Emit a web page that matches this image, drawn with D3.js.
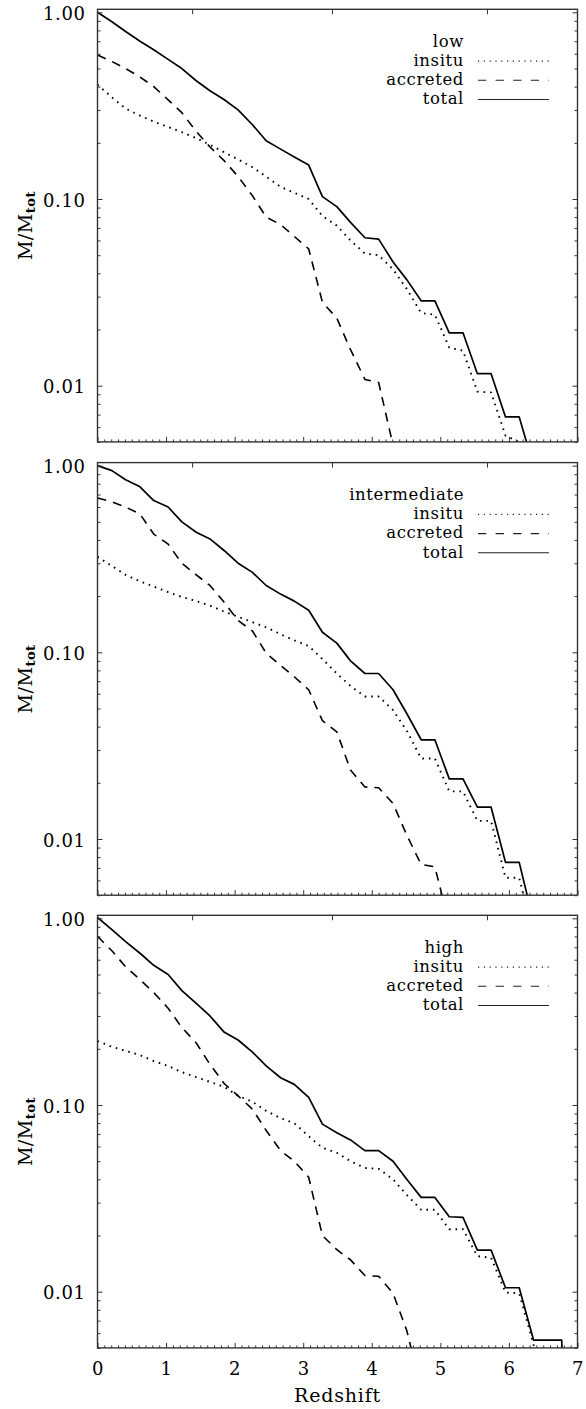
<!DOCTYPE html>
<html>
<head>
<meta charset="utf-8">
<script src="https://cdn.jsdelivr.net/npm/d3@7"></script>
<style>
  html, body { margin: 0; padding: 0; background: #fff; }
  svg { display: block; }
  text { font-family: "DejaVu Serif", "Liberation Serif", serif; fill: #000; }
</style>
</head>
<body>
<script>
// Snapshot redshifts shared by all three panels
const redshift = [0.00, 0.21, 0.41, 0.62, 0.82, 1.03, 1.23, 1.44, 1.64, 1.85, 2.05, 2.26, 2.46, 2.67, 2.87,
                  3.08, 3.28, 3.49, 3.69, 3.90, 4.10, 4.31, 4.51, 4.72, 4.92, 5.13, 5.33, 5.54, 5.74, 5.95,
                  6.15, 6.36, 6.56, 6.77, 6.97];

// "low" sample
const lowInsitu   = [0.41, 0.35, 0.305, 0.28, 0.26, 0.243, 0.228, 0.212, 0.195, 0.178, 0.163, 0.148, 0.132, 0.116, 0.108,
                     0.100, 0.081, 0.072, 0.060, 0.051, 0.050, 0.042, 0.033, 0.0245, 0.024, 0.016, 0.0154, 0.0093, 0.0092, 0.0054,
                     0.0050, 0.003];
const lowAccreted = [0.59, 0.545, 0.50, 0.45, 0.40, 0.34, 0.29, 0.23, 0.19, 0.16, 0.132, 0.104, 0.080, 0.073, 0.063,
                     0.054, 0.028, 0.023, 0.0156, 0.0108, 0.0104, 0.0048, 0.002];
const lowTotal    = [1.00, 0.89, 0.79, 0.70, 0.63, 0.56, 0.50, 0.43, 0.38, 0.34, 0.30, 0.25, 0.205, 0.185, 0.168,
                     0.152, 0.103, 0.091, 0.075, 0.062, 0.061, 0.046, 0.037, 0.0285, 0.0285, 0.0192, 0.0192, 0.0116, 0.0116, 0.0068,
                     0.0068, 0.0037];

// "intermediate" sample
const midInsitu   = [0.325, 0.29, 0.26, 0.24, 0.225, 0.21, 0.198, 0.188, 0.178, 0.165, 0.155, 0.145, 0.136, 0.125, 0.116,
                     0.108, 0.092, 0.077, 0.066, 0.058, 0.058, 0.049, 0.038, 0.027, 0.027, 0.018, 0.018, 0.0125, 0.0125, 0.0062,
                     0.0062, 0.003];
const midAccreted = [0.67, 0.64, 0.60, 0.55, 0.43, 0.38, 0.30, 0.26, 0.228, 0.185, 0.148, 0.130, 0.099, 0.085, 0.074,
                     0.063, 0.043, 0.0375, 0.0234, 0.019, 0.0188, 0.0155, 0.0105, 0.0073, 0.0071, 0.0035];
const midTotal    = [1.00, 0.94, 0.84, 0.77, 0.65, 0.60, 0.50, 0.44, 0.405, 0.35, 0.30, 0.268, 0.228, 0.205, 0.188,
                     0.168, 0.128, 0.112, 0.090, 0.077, 0.077, 0.063, 0.047, 0.034, 0.034, 0.021, 0.021, 0.0148, 0.0148, 0.0075,
                     0.0075, 0.0036];

// "high" sample
const highInsitu   = [0.22, 0.205, 0.195, 0.185, 0.172, 0.162, 0.150, 0.141, 0.133, 0.125, 0.112, 0.104, 0.093, 0.085, 0.080,
                      0.068, 0.059, 0.0555, 0.050, 0.046, 0.0455, 0.040, 0.033, 0.0275, 0.0275, 0.0216, 0.0216, 0.0155, 0.0152, 0.0099,
                      0.0098, 0.0052, 0.003];
const highAccreted = [0.80, 0.67, 0.55, 0.47, 0.40, 0.33, 0.26, 0.215, 0.165, 0.13, 0.112, 0.095, 0.073, 0.057, 0.050,
                      0.041, 0.020, 0.0168, 0.0148, 0.0122, 0.0121, 0.0098, 0.0062, 0.003];
const highTotal    = [1.01, 0.87, 0.75, 0.65, 0.56, 0.50, 0.41, 0.35, 0.30, 0.245, 0.223, 0.192, 0.162, 0.140, 0.129,
                      0.110, 0.079, 0.071, 0.065, 0.057, 0.057, 0.050, 0.040, 0.032, 0.032, 0.0252, 0.0250, 0.0167, 0.0167, 0.0105,
                      0.0105, 0.0055, 0.0055, 0.0055, 0.00001];

const panelNames   = ["low", "intermediate", "high"];
const seriesNames  = ["insitu", "accreted", "total"];
const panelSeries  = [
  [lowInsitu, lowAccreted, lowTotal],
  [midInsitu, midAccreted, midTotal],
  [highInsitu, highAccreted, highTotal]
];

const xTicks      = [0, 1, 2, 3, 4, 5, 6, 7];
const xTickLabels = ["0", "1", "2", "3", "4", "5", "6", "7"];
const topTicks    = [1.38, 3.42, 5.68];
const yTicks      = [1, 0.1, 0.01];
const yTickLabels = ["1.00", "0.10", "0.01"];
const xDomain     = [0, 7];
const yDomain     = [0.005, 1.038];

// Layout
const W = 586, H = 1409;
const left = 97.5, right = 577.5;
const panelTops = [9.3, 462.6, 915.3];
const panelH = 432.6;

const lineStyle = {
  insitu:   { dash: "1.6,4.9", width: 1.9 },
  accreted: { dash: "9,7",     width: 1.6 },
  total:    { dash: null,      width: 1.7 }
};
const legendStyle = {
  insitu:   { dash: "1.2,4.6", width: 1.1 },
  accreted: { dash: "8.3,9.3", width: 1.1 },
  total:    { dash: null,      width: 1.1 }
};

const svg = d3.select("body").append("svg")
  .attr("width", W).attr("height", H);

const x = d3.scaleLinear().domain(xDomain).range([left, right]);

panelNames.forEach((name, p) => {
  const top = panelTops[p], bottom = top + panelH;
  const y = d3.scaleLog().domain(yDomain).range([bottom, top]);
  const g = svg.append("g");

  const clipId = "clip" + p;
  svg.append("clipPath").attr("id", clipId)
    .append("rect").attr("x", left).attr("y", top)
    .attr("width", right - left).attr("height", panelH);

  // curves
  const line = d3.line()
    .x((d, i) => x(redshift[i]))
    .y(d => y(d));
  const curves = g.append("g").attr("clip-path", `url(#${clipId})`);
  panelSeries[p].forEach((vals, s) => {
    const st = lineStyle[seriesNames[s]];
    curves.append("path")
      .datum(vals)
      .attr("d", line)
      .attr("fill", "none")
      .attr("stroke", "#000")
      .attr("stroke-width", st.width)
      .attr("stroke-linejoin", "round")
      .attr("stroke-dasharray", st.dash);
  });

  // axes: ticks point inward
  const minorY = y.ticks().filter(v => !yTicks.some(t => Math.abs(t - v) < 1e-9));
  const minorX = x.ticks(70).filter(v => Math.abs(v - Math.round(v)) > 1e-6);
  const axisStyle = sel => {
    sel.select(".domain").remove();
    sel.selectAll(".tick line").attr("stroke", "#333").attr("stroke-width", 1);
    sel.selectAll(".tick text")
      .style("font-family", '"DejaVu Serif", serif')
      .style("font-size", "18px")
      .style("letter-spacing", "0.6px");
  };

  g.append("g").attr("transform", `translate(${left},0)`)
    .call(d3.axisLeft(y).tickValues(yTicks).tickFormat((d, i) => yTickLabels[i])
      .tickSizeInner(-5).tickSizeOuter(0).tickPadding(12))
    .call(axisStyle)
    .selectAll(".tick text").attr("dy", "0.4em");
  g.append("g").attr("transform", `translate(${left},0)`)
    .call(d3.axisLeft(y).tickValues(minorY).tickFormat("").tickSizeInner(-3).tickSizeOuter(0))
    .call(axisStyle);
  g.append("g").attr("transform", `translate(${right},0)`)
    .call(d3.axisRight(y).tickValues(yTicks).tickFormat("").tickSizeInner(-5).tickSizeOuter(0))
    .call(axisStyle);
  g.append("g").attr("transform", `translate(${right},0)`)
    .call(d3.axisRight(y).tickValues(minorY).tickFormat("").tickSizeInner(-3).tickSizeOuter(0))
    .call(axisStyle);

  const isLast = p === panelNames.length - 1;
  g.append("g").attr("transform", `translate(0,${bottom})`)
    .call(d3.axisBottom(x).tickValues(xTicks)
      .tickFormat(isLast ? (d, i) => xTickLabels[i] : "")
      .tickSizeInner(-5).tickSizeOuter(0).tickPadding(14))
    .call(axisStyle);
  g.append("g").attr("transform", `translate(0,${bottom})`)
    .call(d3.axisBottom(x).tickValues(minorX).tickFormat("").tickSizeInner(-2.5).tickSizeOuter(0))
    .call(axisStyle);
  g.append("g").attr("transform", `translate(0,${top})`)
    .call(d3.axisTop(x).tickValues(topTicks).tickFormat("").tickSizeInner(-5).tickSizeOuter(0))
    .call(axisStyle);

  // frame
  g.append("rect")
    .attr("x", left).attr("y", top)
    .attr("width", right - left).attr("height", panelH)
    .attr("fill", "none").attr("stroke", "#333").attr("stroke-width", 1.4);

  // y title
  const yt = g.append("text")
    .attr("transform", `translate(32,${top + panelH / 2}) rotate(-90)`)
    .attr("text-anchor", "middle")
    .style("font-size", "19px")
    .style("letter-spacing", "0.5px");
  yt.append("tspan").text("M/M");
  yt.append("tspan").attr("dy", 3).style("font-size", "13px").style("font-weight", "bold").text("tot");

  // legend
  const lx = 464, sx0 = 478, sx1 = 549;
  const legendRows = [name].concat(seriesNames);
  legendRows.forEach((label, r) => {
    const base = top + 37.4 + r * 19.2;
    g.append("text")
      .attr("x", lx).attr("y", base)
      .attr("text-anchor", "end")
      .style("font-size", "16.5px")
      .style("letter-spacing", "0.6px")
      .text(label);
    if (r > 0) {
      const st = legendStyle[label];
      g.append("line")
        .attr("x1", sx0).attr("x2", sx1)
        .attr("y1", base - 4.8).attr("y2", base - 4.8)
        .attr("stroke", "#222")
        .attr("stroke-width", st.width)
        .attr("stroke-dasharray", st.dash);
    }
  });
});

// x title
svg.append("text")
  .attr("x", (left + right) / 2).attr("y", 1402)
  .attr("text-anchor", "middle")
  .style("font-size", "19px")
  .style("letter-spacing", "0.8px")
  .text("Redshift");
</script>
</body>
</html>
